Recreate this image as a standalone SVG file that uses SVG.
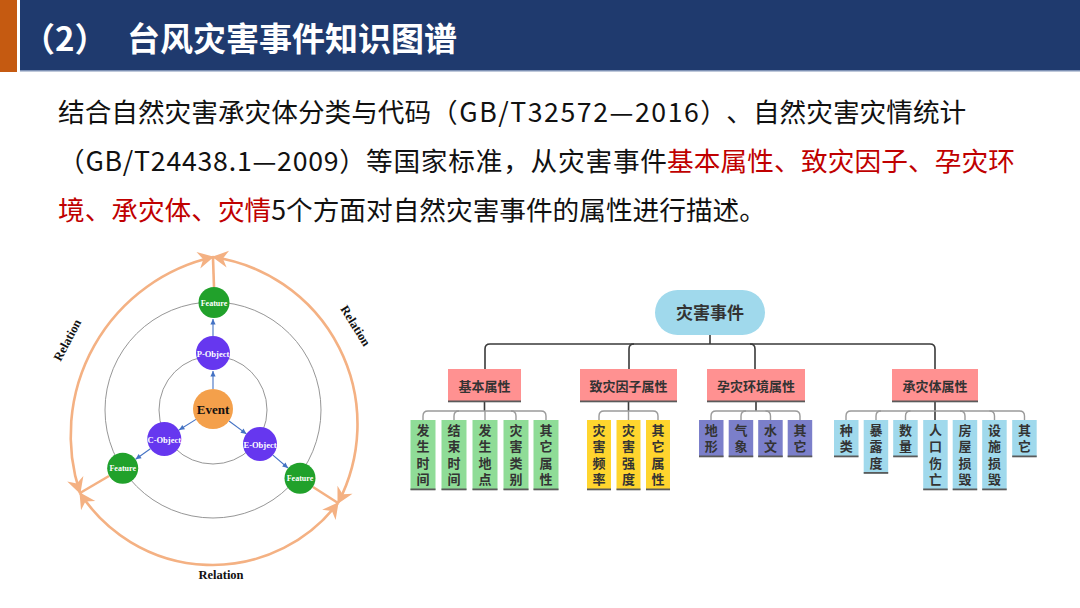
<svg xmlns="http://www.w3.org/2000/svg" width="1080" height="608" viewBox="0 0 1080 608">
<defs>
<style>
.cjk{font-family:"Noto Sans CJK SC","Noto Sans",sans-serif}
.body{font-family:"Noto Sans CJK SC","Noto Sans",sans-serif;font-size:26.67px;fill:#111}
.red{fill:#C00000}
.ser{font-family:"Liberation Serif","Times New Roman",serif;font-weight:bold;text-anchor:middle}
.ring{fill:none;stroke:#8a8a8a;stroke-width:0.9}
.orc{fill:none;stroke:#F4B183;stroke-width:2.6}
.blu{stroke:#4472C4;stroke-width:1.1;fill:none;marker-end:url(#ba)}
.l1{fill:#FF9191}
.l1t{font-family:"Noto Sans CJK SC",sans-serif;font-size:13px;font-weight:bold;fill:#333;text-anchor:middle}
.ch{font-family:"Noto Sans CJK SC",sans-serif;font-size:13px;font-weight:bold;fill:#333;writing-mode:vertical-rl;letter-spacing:3.4px}
.sh{fill:#5a5a5a}
.g{fill:#8FDC97}.y{fill:#FFD52E}.p{fill:#7B7FCA}.lb{fill:#A0D9EC}
.c0{fill:none;stroke:#3a3a3a;stroke-width:1.6}
.c2{fill:none;stroke:#9a9a9a;stroke-width:1.4}
</style>
<marker id="oa" viewBox="-17 -10 19 20" refX="0" refY="0" markerWidth="19" markerHeight="20" markerUnits="userSpaceOnUse" orient="auto-start-reverse">
<path d="M1,0 L-15,-8.5 L-10,0 L-15,8.5 Z" fill="#F4B183"/>
</marker>
<marker id="ba" viewBox="-6 -3 7 6" refX="0" refY="0" markerWidth="7" markerHeight="6" markerUnits="userSpaceOnUse" orient="auto">
<path d="M0,0 L-5.5,-2.6 L-5.5,2.6 Z" fill="#4472C4"/>
</marker>
</defs>
<rect width="1080" height="608" fill="#fff"/>
<!-- header -->
<g id="header">
<rect x="0" y="0" width="17" height="72" fill="#C55A11"/>
<rect x="20" y="0" width="1060" height="70" fill="#1F3A6E"/>
<rect x="20" y="70" width="1060" height="1.5" fill="#7F92B5"/>
<text class="cjk" y="51" font-size="33" font-weight="bold" fill="#fff"><tspan x="22">（2）</tspan><tspan x="127">台风灾害事件知识图谱</tspan></text>
</g>
<!-- body text -->
<g id="intro">
<text class="body" x="58" y="122">结合自然灾害承灾体分类与代码</text>
<text class="body" x="431" y="122" textLength="296" lengthAdjust="spacing">（GB/T32572—2016）</text>
<text class="body" x="726.3" y="122">、自然灾害灾情统计</text>
<text class="body" x="58" y="171" textLength="308" lengthAdjust="spacing">（GB/T24438.1—2009）</text>
<text class="body" x="366" y="171" textLength="301" lengthAdjust="spacing">等国家标准，从灾害事件</text>
<text class="body red" x="667" y="171" textLength="348" lengthAdjust="spacing">基本属性、致灾因子、孕灾环</text>
<text class="body" x="58" y="220"><tspan class="red">境、承灾体、灾情</tspan>5个方面对自然灾害事件的属性进行描述。</text>
</g>
<!-- left diagram -->
<g id="rings">
<circle class="ring" cx="213" cy="410" r="54"/>
<circle class="ring" cx="213" cy="410" r="108"/>
</g>
<g id="connectors-left">
<path class="orc" d="M213 257 A183 183 0 0 0 80 493" marker-start="url(#oa)" marker-end="url(#oa)"/>
<path class="orc" d="M213 257 A169 169 0 0 1 338 503" marker-start="url(#oa)" marker-end="url(#oa)"/>
<path class="orc" d="M80 493 A158 158 0 0 0 338 503" marker-start="url(#oa)" marker-end="url(#oa)"/>
<path class="orc" d="M214 287 L213 258"/>
<path class="orc" d="M109 476 L80 493"/>
<path class="orc" d="M313 487 L338 503"/>
<path class="blu" d="M213 389 L213 371"/>
<path class="blu" d="M213 336 L213 319"/>
<path class="blu" d="M196 419.4 L179 430"/>
<path class="blu" d="M150.4 448.8 L135.6 459.2"/>
<path class="blu" d="M229 421 L246.4 433.9"/>
<path class="blu" d="M272.9 455.1 L288 468"/>
</g>
<g id="event"><circle cx="213" cy="409" r="20" fill="#F4A04B"/><text class="ser" x="213" y="413.5" font-size="13" fill="#111">Event</text></g>
<g id="p-object"><circle cx="213" cy="353" r="17" fill="#6637EF"/><text class="ser" x="213" y="356.5" font-size="8.5" fill="#fff">P-Object</text></g>
<g id="c-object"><circle cx="164.3" cy="439" r="17" fill="#6637EF"/><text class="ser" x="164.3" y="442.5" font-size="8.5" fill="#fff">C-Object</text></g>
<g id="e-object"><circle cx="260" cy="444" r="17" fill="#6637EF"/><text class="ser" x="260" y="447.5" font-size="8.5" fill="#fff">E-Object</text></g>
<g id="feature-top"><circle cx="214" cy="302.5" r="15.5" fill="#21A12B"/><text class="ser" x="214" y="305.5" font-size="8" fill="#fff">Feature</text></g>
<g id="feature-left"><circle cx="122.7" cy="468.3" r="15.5" fill="#21A12B"/><text class="ser" x="122.7" y="471.3" font-size="8" fill="#fff">Feature</text></g>
<g id="feature-right"><circle cx="300" cy="478.3" r="15.5" fill="#21A12B"/><text class="ser" x="300" y="481.3" font-size="8" fill="#fff">Feature</text></g>
<g id="relation-labels">
<text class="ser" font-size="12.5" fill="#111" transform="translate(71 342) rotate(-62)">Relation</text>
<text class="ser" font-size="12.5" fill="#111" transform="translate(352 328) rotate(58)">Relation</text>
<text class="ser" font-size="12.5" fill="#111" x="221" y="579">Relation</text>
</g>
<!-- tree connectors -->
<g id="connectors-tree">
<path class="c0" d="M710 335 V344"/>
<path class="c0" d="M485 369 V349 Q485 344 490 344 H930 Q935 344 935 349 V369"/>
<path class="c0" d="M634 344 Q629 344 629 349 V369"/>
<path class="c0" d="M750 344 Q755 344 755 349 V369"/>
<path class="c0" d="M484.5 402 V411"/>
<path class="c0" d="M628.5 402 V411"/>
<path class="c0" d="M756 402 V411"/>
<path class="c0" d="M935 402 V420"/>
<path class="c2" d="M423 420 V416 Q423 411 428 411 H541 Q546 411 546 416 V420"/>
<path class="c2" d="M459 411 Q454 411 454 416 V420 M485 411 V420 M511 411 Q516 411 516 416 V420"/>
<path class="c2" d="M599 420 V416 Q599 411 604 411 H653 Q658 411 658 416 V420 M628.5 411 V420"/>
<path class="c2" d="M711 420 V416 Q711 411 716 411 H795 Q800 411 800 416 V420"/>
<path class="c2" d="M746 411 Q741 411 741 416 V420 M765.5 411 Q770.5 411 770.5 416 V420"/>
<path class="c2" d="M846 420 V416 Q846 411 851 411 H1019.5 Q1024.5 411 1024.5 416 V420"/>
<path class="c2" d="M881 411 Q876 411 876 416 V420 M910.5 411 Q905.5 411 905.5 416 V420 M960 411 Q965 411 965 416 V420 M989.5 411 Q994.5 411 994.5 416 V420"/>
</g>
<!-- tree nodes -->
<g id="root"><rect x="655" y="290" width="110" height="45" rx="22.5" fill="#A0D9EC"/><text class="cjk" x="710" y="318.5" font-size="17" font-weight="bold" fill="#333" text-anchor="middle">灾害事件</text></g>
<g id="basic"><rect class="l1" x="448" y="369" width="73" height="33"/><rect class="sh" x="448" y="400.5" width="73" height="1.8"/><text class="l1t" x="484.5" y="391">基本属性</text></g>
<g id="hazard"><rect class="l1" x="580" y="369" width="97" height="33"/><rect class="sh" x="580" y="400.5" width="97" height="1.8"/><text class="l1t" x="628.5" y="391">致灾因子属性</text></g>
<g id="environment"><rect class="l1" x="707" y="369" width="98" height="33"/><rect class="sh" x="707" y="400.5" width="98" height="1.8"/><text class="l1t" x="756" y="391">孕灾环境属性</text></g>
<g id="bearer"><rect class="l1" x="892" y="369" width="86" height="33"/><rect class="sh" x="892" y="400.5" width="86" height="1.8"/><text class="l1t" x="935" y="391">承灾体属性</text></g>

<g id="a1"><rect class="g" x="410.5" y="420" width="25" height="70"/><rect class="sh" x="410.5" y="488.5" width="25" height="1.8"/><text class="ch" x="423" y="423.5">发生时间</text></g>
<g id="a2"><rect class="g" x="441.5" y="420" width="25" height="70"/><rect class="sh" x="441.5" y="488.5" width="25" height="1.8"/><text class="ch" x="454" y="423.5">结束时间</text></g>
<g id="a3"><rect class="g" x="472.5" y="420" width="25" height="70"/><rect class="sh" x="472.5" y="488.5" width="25" height="1.8"/><text class="ch" x="485" y="423.5">发生地点</text></g>
<g id="a4"><rect class="g" x="503.5" y="420" width="25" height="70"/><rect class="sh" x="503.5" y="488.5" width="25" height="1.8"/><text class="ch" x="516" y="423.5">灾害类别</text></g>
<g id="a5"><rect class="g" x="533.5" y="420" width="25" height="70"/><rect class="sh" x="533.5" y="488.5" width="25" height="1.8"/><text class="ch" x="546" y="423.5">其它属性</text></g>

<g id="b1"><rect class="y" x="587" y="420" width="24" height="70"/><rect class="sh" x="587" y="488.5" width="24" height="1.8"/><text class="ch" x="599" y="423.5">灾害频率</text></g>
<g id="b2"><rect class="y" x="616.5" y="420" width="24" height="70"/><rect class="sh" x="616.5" y="488.5" width="24" height="1.8"/><text class="ch" x="628.5" y="423.5">灾害强度</text></g>
<g id="b3"><rect class="y" x="646" y="420" width="24" height="70"/><rect class="sh" x="646" y="488.5" width="24" height="1.8"/><text class="ch" x="658" y="423.5">其它属性</text></g>

<g id="c1"><rect class="p" x="699" y="420" width="24.5" height="37"/><rect class="sh" x="699" y="455.5" width="24.5" height="1.8"/><text class="ch" x="711.2" y="423.5">地形</text></g>
<g id="c2"><rect class="p" x="728.7" y="420" width="24.5" height="37"/><rect class="sh" x="728.7" y="455.5" width="24.5" height="1.8"/><text class="ch" x="741" y="423.5">气象</text></g>
<g id="c3"><rect class="p" x="758.2" y="420" width="24.5" height="37"/><rect class="sh" x="758.2" y="455.5" width="24.5" height="1.8"/><text class="ch" x="770.5" y="423.5">水文</text></g>
<g id="c4"><rect class="p" x="787.7" y="420" width="24.5" height="37"/><rect class="sh" x="787.7" y="455.5" width="24.5" height="1.8"/><text class="ch" x="800" y="423.5">其它</text></g>

<g id="d1"><rect class="lb" x="834" y="420" width="24.5" height="37"/><rect class="sh" x="834" y="455.5" width="24.5" height="1.8"/><text class="ch" x="846.2" y="423.5">种类</text></g>
<g id="d2"><rect class="lb" x="863.7" y="420" width="24.5" height="53.5"/><rect class="sh" x="863.7" y="472" width="24.5" height="1.8"/><text class="ch" x="876" y="423.5">暴露度</text></g>
<g id="d3"><rect class="lb" x="893.2" y="420" width="24.5" height="37"/><rect class="sh" x="893.2" y="455.5" width="24.5" height="1.8"/><text class="ch" x="905.5" y="423.5">数量</text></g>
<g id="d4"><rect class="lb" x="923.2" y="420" width="24.5" height="70"/><rect class="sh" x="923.2" y="488.5" width="24.5" height="1.8"/><text class="ch" x="935.5" y="423.5">人口伤亡</text></g>
<g id="d5"><rect class="lb" x="952.7" y="420" width="24.5" height="70"/><rect class="sh" x="952.7" y="488.5" width="24.5" height="1.8"/><text class="ch" x="965" y="423.5">房屋损毁</text></g>
<g id="d6"><rect class="lb" x="982.2" y="420" width="24.5" height="70"/><rect class="sh" x="982.2" y="488.5" width="24.5" height="1.8"/><text class="ch" x="994.5" y="423.5">设施损毁</text></g>
<g id="d7"><rect class="lb" x="1012.2" y="420" width="24.5" height="37"/><rect class="sh" x="1012.2" y="455.5" width="24.5" height="1.8"/><text class="ch" x="1024.5" y="423.5">其它</text></g>
</svg>
